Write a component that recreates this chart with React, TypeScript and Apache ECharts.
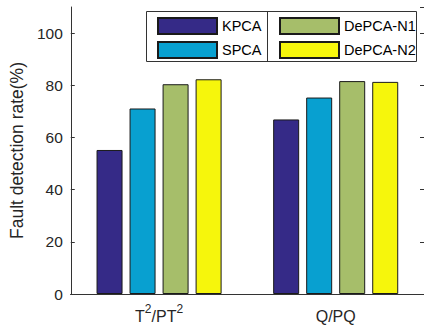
import React, { useEffect, useRef } from "react";
import * as echarts from "echarts";

const categories = ["T2/PT2", "Q/PQ"];
const seriesNames = ["KPCA", "SPCA", "DePCA-N1", "DePCA-N2"];
const kpca = [55.2, 66.9];
const spca = [71.1, 75.3];
const depcaN1 = [80.4, 81.6];
const depcaN2 = [82.3, 81.3];
const colors = ["#352A87", "#08A0D0", "#A6BE6A", "#F6F60C"];
const yTicks = { min: 0, max: 110, interval: 20 };

const FONT = "'Liberation Sans', Arial, sans-serif";
const AX = "#333333";

export default function App() {
  const ref = useRef<HTMLDivElement>(null);
  useEffect(() => {
    if (!ref.current) return;
    const chart = echarts.init(ref.current, undefined, { renderer: "svg" });
    const values = [kpca, spca, depcaN1, depcaN2];
    const option: any = {
      animation: false,
      grid: { left: 65, top: 7, right: -2, bottom: 32 },
      xAxis: [
        {
          type: "category",
          data: categories,
          position: "bottom",
          axisLine: { lineStyle: { color: AX, width: 1 } },
          axisTick: { inside: true, alignWithLabel: true, length: 4, lineStyle: { color: AX } },
          axisLabel: {
            margin: 9,
            color: "#262626",
            fontFamily: FONT,
            formatter: (v: string) =>
              v === "T2/PT2" ? "{a|T}{s|2}{a|/PT}{s|2}" : "{a|" + v + "}",
            rich: {
              a: { fontSize: 16, fontFamily: FONT, color: "#262626", lineHeight: 21, verticalAlign: "bottom" },
              s: { fontSize: 12, fontFamily: FONT, color: "#262626", lineHeight: 21, verticalAlign: "top" },
            },
          },
          splitLine: { show: false },
        },
        {
          type: "category",
          data: categories,
          position: "top",
          axisLine: { lineStyle: { color: AX, width: 1 } },
          axisTick: { inside: true, alignWithLabel: true, length: 4, lineStyle: { color: AX } },
          axisLabel: { show: false },
          splitLine: { show: false },
        },
      ],
      yAxis: [
        {
          type: "value",
          min: yTicks.min,
          max: yTicks.max,
          interval: yTicks.interval,
          position: "left",
          name: "Fault detection rate(%)",
          nameLocation: "middle",
          nameGap: 41,
          nameTextStyle: { fontSize: 17.5, fontFamily: FONT, color: "#262626" },
          axisLine: { show: true, lineStyle: { color: AX, width: 1 } },
          axisTick: { show: true, inside: true, length: 4, lineStyle: { color: AX } },
          axisLabel: {
            margin: 8,
            fontSize: 15.5,
            fontFamily: FONT,
            color: "#262626",
            showMaxLabel: false,
            formatter: (v: number) => (v > 100 ? "" : String(v)),
          },
          splitLine: { show: false },
        },
        {
          type: "value",
          min: yTicks.min,
          max: yTicks.max,
          interval: yTicks.interval,
          position: "right",
          axisLine: { show: true, lineStyle: { color: AX, width: 1 } },
          axisTick: { show: true, inside: true, length: 4, lineStyle: { color: AX } },
          axisLabel: { show: false },
          splitLine: { show: false },
        },
      ],
      legend: [
        {
          orient: "vertical",
          left: 157,
          top: 17,
          itemWidth: 59,
          itemHeight: 16,
          itemGap: 6,
          padding: 0,
          icon: "rect",
          data: ["KPCA", "SPCA"],
          textStyle: { fontSize: 14.5, fontFamily: FONT, color: "#000", lineHeight: 16 },
          z: 10,
        },
        {
          orient: "vertical",
          left: 279,
          top: 17,
          itemWidth: 59,
          itemHeight: 16,
          itemGap: 6,
          padding: 0,
          icon: "rect",
          data: ["DePCA-N1", "DePCA-N2"],
          textStyle: { fontSize: 14.5, fontFamily: FONT, color: "#000", lineHeight: 16 },
          z: 10,
        },
      ],
      graphic: [
        {
          type: "rect",
          z: 5,
          shape: { x: 146.5, y: 11.5, width: 270, height: 50 },
          style: { fill: "#fff", stroke: "#333", lineWidth: 1 },
        },
        {
          type: "line",
          z: 6,
          shape: { x1: 267.5, y1: 11.5, x2: 267.5, y2: 61.5 },
          style: { stroke: "#333", lineWidth: 1 },
        },
      ],
      series: seriesNames.map((name, i) => ({
        name,
        type: "bar",
        data: values[i],
        barWidth: 26,
        barGap: "27%",
        xAxisIndex: 0,
        yAxisIndex: 0,
        itemStyle: { color: colors[i], borderColor: "#1a1a1a", borderWidth: 1 },
      })),
    };
    chart.setOption(option);
    return () => chart.dispose();
  }, []);
  return (
    <div
      ref={ref}
      style={{ position: "fixed", left: 0, top: 0, width: 424, height: 326, background: "#fff" }}
    />
  );
}
